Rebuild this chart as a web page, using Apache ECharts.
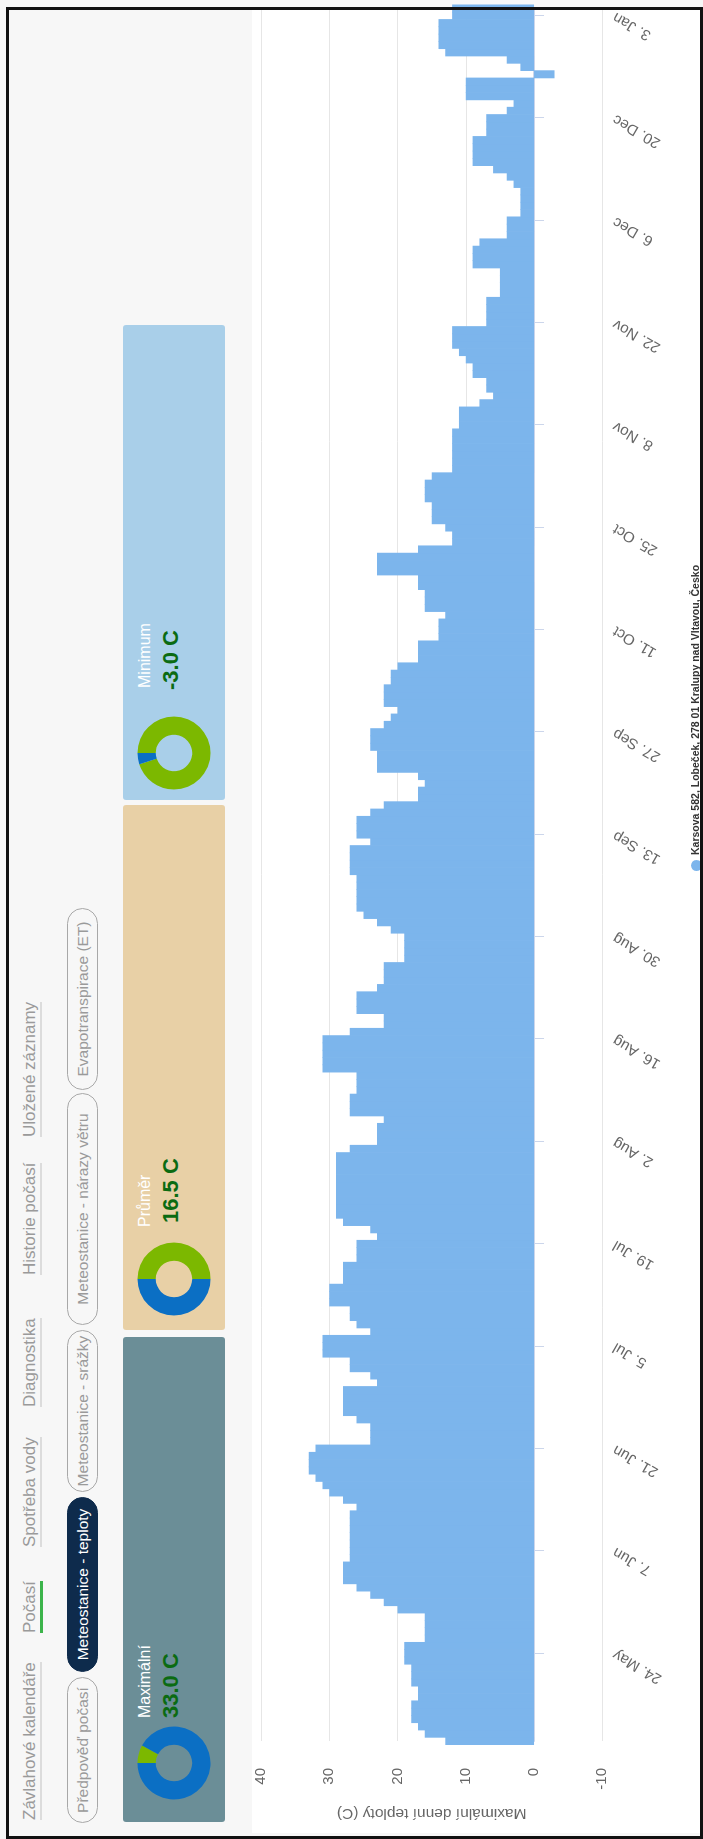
<!DOCTYPE html>
<html>
<head>
<meta charset="utf-8">
<script src="https://cdn.jsdelivr.net/npm/echarts@6/dist/echarts.min.js"></script>
<style>
  html, body { margin: 0; padding: 0; width: 703px; height: 1839px; overflow: hidden; background: #f7f7f7; }
  #page {
    position: absolute; left: 0; top: 0; width: 1839px; height: 703px;
    transform-origin: 0 0; transform: translateY(1839px) rotate(-90deg);
    background: #f7f7f7; font-family: "Liberation Sans", Arial, sans-serif; overflow: hidden;
  }
  .tab { position: absolute; top: 19px; font-size: 17px; line-height: 21px; color: #9a9a9a;
         border-bottom: 2px solid #dcdcdc; white-space: nowrap; }
  .tab.active { border-bottom: 3px solid #3cb44b; }
  .pill { position: absolute; top: 67px; height: 29px; line-height: 29px; border: 1px solid #a8a8a8;
          border-radius: 16px; font-size: 15.5px; color: #9a9a9a; text-align: center; white-space: nowrap; }
  .pill.active { background: #0e2b4c; border-color: #0e2b4c; color: #fff; }
  .card { position: absolute; top: 123px; height: 102px; border-radius: 3px; }
  .card .donut { position: absolute; top: 13px; width: 76px; height: 76px; }
  .card .lbl { position: absolute; top: 13px; font-size: 16px; color: #fff; white-space: nowrap; }
  .card .val { position: absolute; top: 35px; font-size: 22px; font-weight: bold; color: #0b6b12; white-space: nowrap; }
  #chartbox { position: absolute; left: 6px; top: 252px; width: 1826px; height: 451px; background: #fff; }
  #main { position: absolute; left: 0; top: 0; width: 1839px; height: 703px; }
  #frame { position: absolute; left: 0; top: 6px; width: 1832px; height: 697px; border: 3px solid #111;
           box-sizing: border-box; pointer-events: none; }
</style>
</head>
<body>
<div id="page">
  <div class="tab" style="left:19px">Závlahové kalendáře</div>
  <div class="tab active" style="left:206px">Počasí</div>
  <div class="tab" style="left:292px">Spotřeba vody</div>
  <div class="tab" style="left:432px">Diagnostika</div>
  <div class="tab" style="left:564px">Historie počasí</div>
  <div class="tab" style="left:702px">Uložené záznamy</div>

  <div class="pill" style="left:16px;width:144px">Předpověď počasí</div>
  <div class="pill active" style="left:167px;width:173px">Meteostanice - teploty</div>
  <div class="pill" style="left:347px;width:160px">Meteostanice - srážky</div>
  <div class="pill" style="left:514px;width:230px">Meteostanice - nárazy větru</div>
  <div class="pill" style="left:749px;width:180px">Evapotranspirace (ET)</div>

  <div class="card" style="left:17px;width:485px;background:#6b8e97">
    <div class="donut" id="donut0" style="left:21px"></div>
    <div class="lbl" style="left:104px">Maximální</div>
    <div class="val" style="left:104px">33.0 C</div>
  </div>
  <div class="card" style="left:509px;width:525px;background:#e8d0a6">
    <div class="donut" id="donut1" style="left:13px"></div>
    <div class="lbl" style="left:103px">Průměr</div>
    <div class="val" style="left:107px">16.5 C</div>
  </div>
  <div class="card" style="left:1039px;width:475px;background:#a9cfe9">
    <div class="donut" id="donut2" style="left:9px"></div>
    <div class="lbl" style="left:112px">Minimum</div>
    <div class="val" style="left:110px">-3.0 C</div>
  </div>

  <div id="chartbox"></div>
  <div id="main"></div>
  <div id="frame"></div>
</div>

<script>
// daily maximum temperatures, first day 12 May
const firstDay = [2023, 4, 12];
const maxTemps = [
  13, 16, 17, 18, 18, 18, 17, 17, 18, 18, 18, 19, 19, 19, 16, 16, 16, 16, 20, 22,
  24, 26, 28, 28, 28, 27, 27, 27, 27, 27, 27, 27, 26, 28, 30, 31, 32, 33, 33, 33,
  32, 24, 24, 24, 26, 28, 28, 28, 28, 23, 24, 27, 27, 31, 31, 31, 24, 26, 27, 27,
  30, 30, 30, 28, 28, 28, 26, 26, 26, 23, 24, 28, 29, 29, 29, 29, 29, 29, 29, 29,
  29, 27, 23, 23, 23, 22, 27, 27, 27, 26, 26, 26, 31, 31, 31, 31, 31, 27, 22, 22,
  26, 26, 26, 23, 22, 22, 22, 19, 19, 19, 19, 21, 23, 25, 26, 26, 26, 26, 26, 27,
  27, 27, 27, 24, 26, 26, 26, 24, 22, 17, 17, 16, 17, 23, 23, 23, 24, 24, 24, 22,
  21, 20, 22, 22, 22, 21, 21, 20, 17, 17, 17, 14, 14, 14, 13, 16, 16, 16, 17, 17,
  23, 23, 23, 17, 12, 12, 13, 15, 15, 15, 16, 16, 16, 15, 12, 12, 12, 12, 12, 12,
  11, 11, 11, 8, 6, 7, 7, 9, 9, 10, 11, 12, 12, 12, 7, 7, 7, 7, 5, 5,
  5, 5, 9, 9, 9, 8, 4, 4, 4, 2, 2, 2, 2, 3, 4, 6, 9, 9, 9, 9,
  7, 7, 7, 4, 3, 10, 10, 10, -3, 2, 4, 13, 14, 14, 14, 14, 12, 12
];
const monthNames = ['Jan', 'Feb', 'Mar', 'Apr', 'May', 'Jun', 'Jul', 'Aug', 'Sep', 'Oct', 'Nov', 'Dec'];
const firstLabel = 12;   // 24. May
const labelStep = 14;
const valueMin = -10, valueMax = 40, valueStep = 10;
const seriesName = 'Karsova 582, Lobeček, 278 01 Kralupy nad Vltavou, Česko';
const axisTitle = 'Maximální denní teploty (C)';

// donut cards: [green, blue] shares
const donutGreen = [8, 50, 95];
const donutBlue = [92, 50, 5];

const days = [];
for (let i = 0; i < maxTemps.length; i++) {
  const d = new Date(firstDay[0], firstDay[1], firstDay[2] + i);
  days.push(d.getDate() + '. ' + monthNames[d.getMonth()]);
}
const showTick = (i) => i >= firstLabel && (i - firstLabel) % labelStep === 0;

function setChart() {
  const myChart = echarts.init(document.getElementById('main'));
  const option = {
    animation: false,
    backgroundColor: 'rgba(0,0,0,0)',
    grid: { left: 98, right: 8.5, top: 261, bottom: 100.7 },
    legend: {
      data: [seriesName],
      left: 963, top: 686,
      icon: 'circle', itemWidth: 11, itemHeight: 11,
      textStyle: { color: '#333', fontSize: 10.5, fontWeight: 'bold', fontFamily: 'Liberation Sans' }
    },
    xAxis: {
      type: 'category',
      data: days,
      boundaryGap: false,
      axisLine: { lineStyle: { color: '#ccd6eb', width: 2 } },
      axisTick: { interval: showTick, length: 10, lineStyle: { color: '#ccd6eb' } },
      axisLabel: { interval: showTick, rotate: 60, color: '#666', fontSize: 15, margin: 12,
                   fontFamily: 'Liberation Sans' },
      splitLine: { show: false }
    },
    yAxis: {
      type: 'value',
      min: valueMin, max: valueMax, interval: valueStep,
      name: axisTitle,
      nameLocation: 'middle', nameRotate: 90, nameGap: 64,
      nameTextStyle: { color: '#666', fontSize: 15.5, fontFamily: 'Liberation Sans' },
      axisLabel: { color: '#666', fontSize: 15, margin: 27, fontFamily: 'Liberation Sans' },
      splitLine: { lineStyle: { color: '#e6e6e6' } }
    },
    series: [{
      name: seriesName,
      type: 'bar',
      data: maxTemps,
      barWidth: 8,
      clip: true,
      itemStyle: { color: '#7cb5ec' }
    }]
  };
  myChart.setOption(option);
}

function setDonut(i) {
  const c = echarts.init(document.getElementById('donut' + i));
  c.setOption({
    animation: false,
    series: [{
      type: 'pie', radius: ['48%', '96%'], startAngle: 90, silent: true,
      label: { show: false }, labelLine: { show: false },
      data: [
        { value: donutGreen[i], itemStyle: { color: '#7cb800' } },
        { value: donutBlue[i], itemStyle: { color: '#0b6fc4' } }
      ]
    }]
  });
}

setChart();
[0, 1, 2].forEach(setDonut);
</script>
</body>
</html>
